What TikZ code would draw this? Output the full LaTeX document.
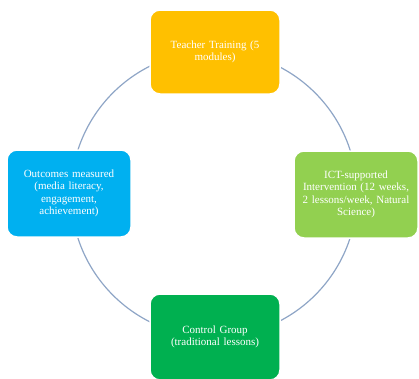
\documentclass[tikz,border=0pt]{standalone}
\usepackage{fontspec}
\setmainfont{Liberation Serif}
\usetikzlibrary{positioning}

\definecolor{gold}{HTML}{FFC000}
\definecolor{leaf}{HTML}{92D050}
\definecolor{sky}{HTML}{00B0F0}
\definecolor{grass}{HTML}{00B050}
\definecolor{ring}{HTML}{8EA5C6}

\begin{document}
\begin{tikzpicture}[x=1pt,y=-1pt,
  stage/.style={draw=white, line width=1.5pt, rounded corners=10pt,
    text=white, align=center, inner sep=3pt,
    font=\fontsize{11}{12.4}\selectfont}]
  \useasboundingbox (0,0) rectangle (419,378);

  % cycle ring behind the boxes
  \draw[ring, line width=1.2pt] (214,194) circle[radius=143];

  \node[stage, fill=gold, minimum width=130pt, minimum height=84pt, text width=118pt]
    (training) at (215,52) {Teacher Training (5\\modules)};
  \node[stage, fill=leaf, minimum width=124pt, minimum height=87pt, text width=118pt]
    (intervention) at (356,194.5) {ICT-supported\\Intervention (12 weeks,\\2 lessons/week, Natural\\Science)};
  \node[stage, fill=grass, minimum width=130pt, minimum height=86pt, text width=118pt]
    (control) at (215,337) {Control Group\\(traditional lessons)};
  \node[stage, fill=sky, minimum width=124pt, minimum height=87pt, text width=118pt]
    (outcomes) at (69,193.5) {Outcomes measured\\(media literacy,\\engagement,\\achievement)};
\end{tikzpicture}
\end{document}
